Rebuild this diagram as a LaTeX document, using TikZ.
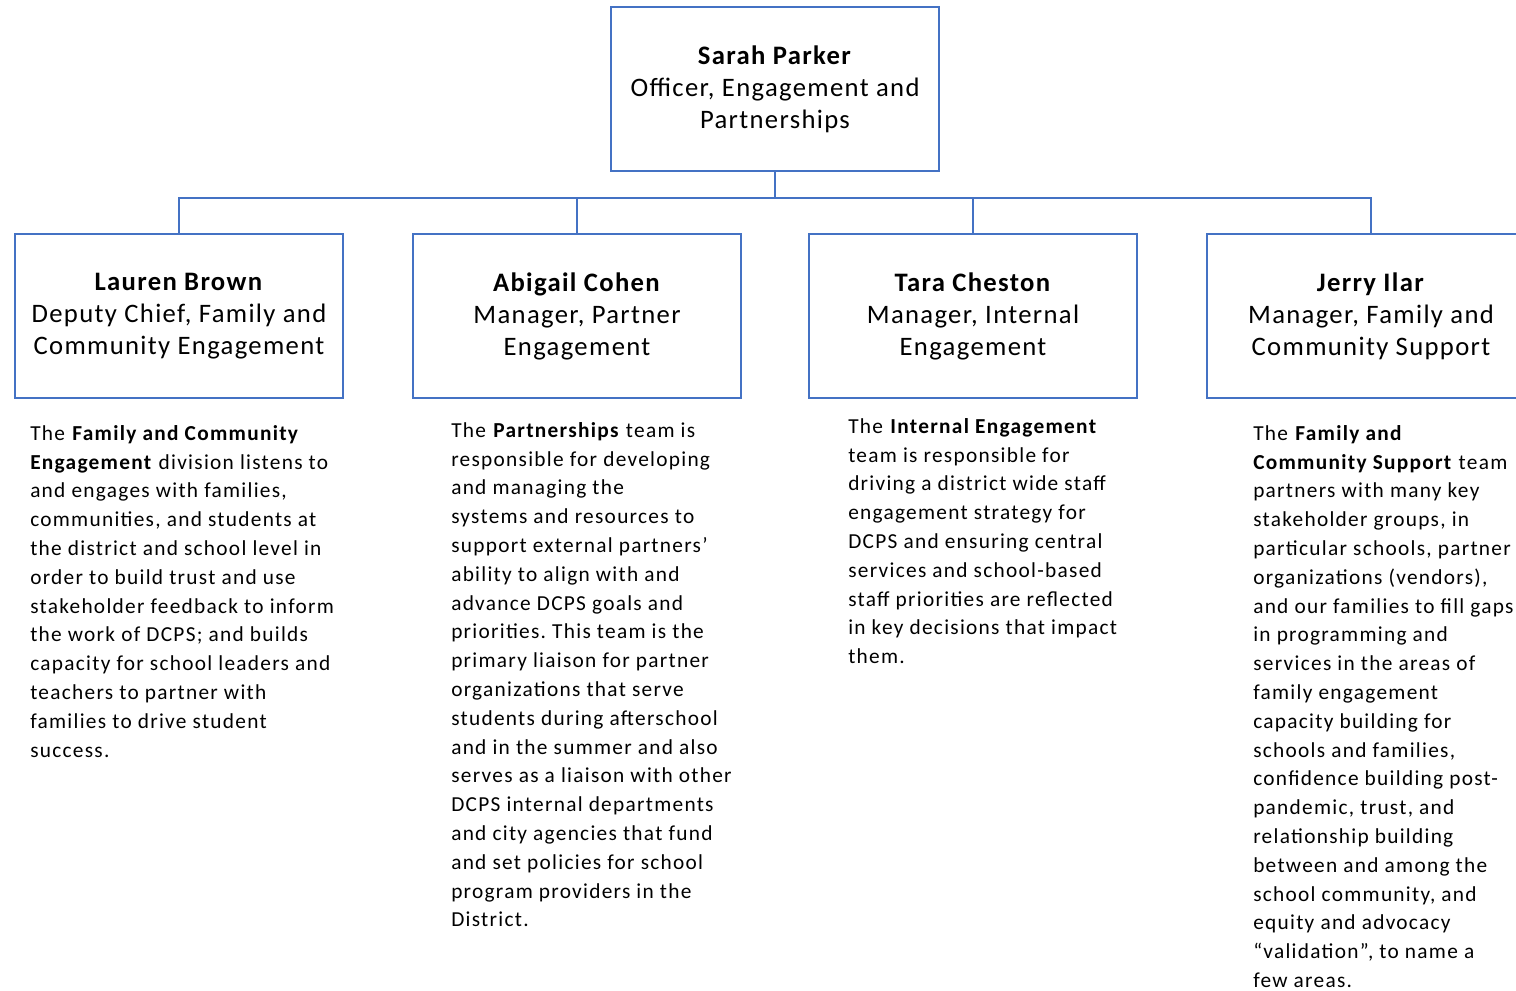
\documentclass[tikz,border=0pt]{standalone}
\usepackage{fontspec}
\setmainfont{Carlito}
\newfontfamily\rolefont[LetterSpace=5]{Carlito}
\newfontfamily\teamfont[LetterSpace=6]{Carlito}
\frenchspacing

\begin{document}
\begin{tikzpicture}[x=0.75pt,y=0.75pt,yscale=-1,
    rolebox/.style={draw=boxblue, line width=2pt, fill=white, minimum width=246pt, minimum height=123pt,
        inner sep=2pt, align=center, font=\rolefont\fontsize{20}{24}\selectfont},
    teamtxt/.style={anchor=north west, inner sep=0pt, align=left, font=\teamfont\fontsize{16}{21.6}\selectfont},
    link/.style={draw=boxblue, line width=2pt}]
    \definecolor{boxblue}{RGB}{68,114,196}
    \useasboundingbox (0,0) rectangle (1516,991);
    \clip (0,0) rectangle (1516,991);

    % Boxes
    \node[rolebox] (parker) at (775,89) {\textbf{Sarah Parker}\\Officer, Engagement and\\Partnerships};
    \node[rolebox] (brown) at (179,316) {\textbf{Lauren Brown}\\Deputy Chief, Family and\\Community Engagement};
    \node[rolebox] (cohen) at (577,316) {\textbf{Abigail Cohen}\\Manager, Partner\\Engagement};
    \node[rolebox] (cheston) at (973,316) {\textbf{Tara Cheston}\\Manager, Internal\\Engagement};
    \node[rolebox] (ilar) at (1371,316) {\textbf{Jerry Ilar}\\Manager, Family and\\Community Support};

    % Connectors
    \coordinate (bus) at (775,198);
    \draw[link] (parker.south) -- (bus);
    \draw[link] (bus) -| (brown.north);
    \draw[link] (bus) -| (cohen.north);
    \draw[link] (bus) -| (cheston.north);
    \draw[link] (bus) -| (ilar.north);

    % Team texts
    \node[teamtxt] (brownTxt) at (30,425) {The \textbf{Family and Community}\\
        \textbf{Engagement} division listens to\\
        and engages with families,\\
        communities, and students at\\
        the district and school level in\\
        order to build trust and use\\
        stakeholder feedback to inform\\
        the work of DCPS; and builds\\
        capacity for school leaders and\\
        teachers to partner with\\
        families to drive student\\
        success.};
    \node[teamtxt] (cohenTxt) at (451,422) {The \textbf{Partnerships} team is\\
        responsible for developing\\
        and managing the\\
        systems and resources to\\
        support external partners’\\
        ability to align with and\\
        advance DCPS goals and\\
        priorities. This team is the\\
        primary liaison for partner\\
        organizations that serve\\
        students during afterschool\\
        and in the summer and also\\
        serves as a liaison with other\\
        DCPS internal departments\\
        and city agencies that fund\\
        and set policies for school\\
        program providers in the\\
        District.};
    \node[teamtxt] (chestonTxt) at (848,418) {The \textbf{Internal Engagement}\\
        team is responsible for\\
        driving a district wide staff\\
        engagement strategy for\\
        DCPS and ensuring central\\
        services and school-based\\
        staff priorities are reflected\\
        in key decisions that impact\\
        them.};
    \node[teamtxt] (ilarTxt) at (1253,425) {The \textbf{Family and}\\
        \textbf{Community Support} team\\
        partners with many key\\
        stakeholder groups, in\\
        particular schools, partner\\
        organizations (vendors),\\
        and our families to fill gaps\\
        in programming and\\
        services in the areas of\\
        family engagement\\
        capacity building for\\
        schools and families,\\
        confidence building post-\\
        pandemic, trust, and\\
        relationship building\\
        between and among the\\
        school community, and\\
        equity and advocacy\\
        “validation”, to name a\\
        few areas.};

\end{tikzpicture}
\end{document}
